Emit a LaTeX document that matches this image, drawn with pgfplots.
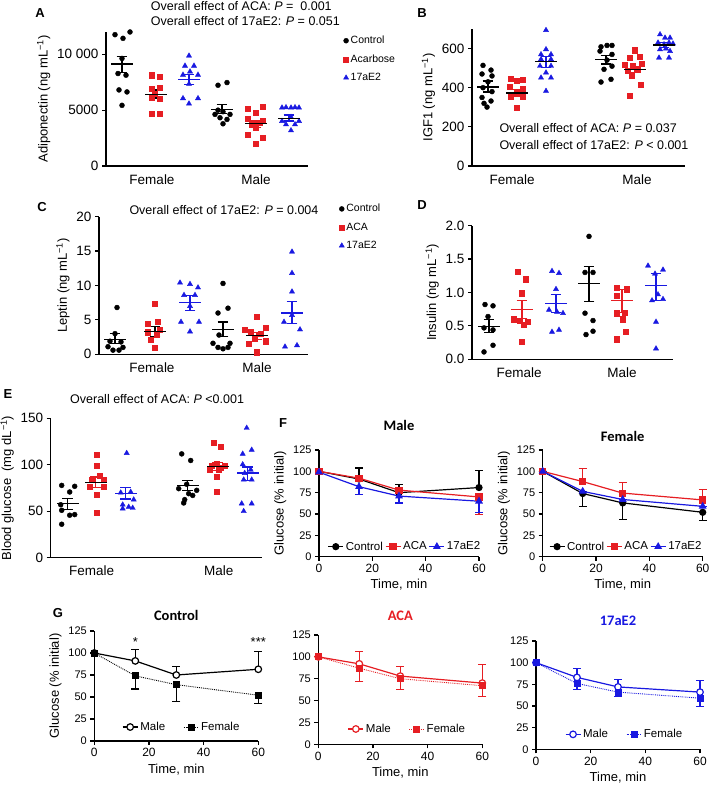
\documentclass[border=0pt]{standalone}
\usepackage{fontspec}
\setmainfont{Liberation Sans}
\newfontfamily\carlito{Carlito}
\usepackage{pgfplots}
\pgfplotsset{compat=1.18}
\definecolor{myred}{RGB}{230,30,35}
\definecolor{myblue}{RGB}{25,25,225}
\newcommand\fsz[1]{\fontsize{#1bp}{1.2\dimexpr#1bp\relax}\selectfont}
\pgfplotsset{
  base/.style={scale only axis, axis x line*=bottom, axis y line*=left, clip=false,
    axis line style={line width=1.2bp, black},
    tick style={line width=1.2bp, black},
    tick align=outside, major tick length=4bp,
    scaled y ticks=false, scaled x ticks=false,
    /pgf/number format/assume math mode=true,
    ymin=0, ylabel style={font=\fsz{13}},
  },
  scat/.style={base,
    ticklabel style={font=\fsz{13.5}},
    major x tick style={draw=none},
    xticklabel style={yshift=-1bp},
    legend style={draw=none, fill=none, font=\fsz{10.5}, legend cell align=left, row sep=5.5bp},
  },
  ctrl/.style={only marks, mark=*, mark size=2.5, black,
    legend image code/.code={\draw[##1] plot coordinates {(0bp,0bp)};}},
  aca/.style={only marks, mark=square*, mark size=2.6, myred,
    legend image code/.code={\draw[##1] plot coordinates {(0bp,0bp)};}},
  etwo/.style={only marks, mark=triangle*, mark size=3.0, myblue,
    legend image code/.code={\draw[##1] plot coordinates {(0bp,0bp)};}},
  tline/.style={base, xmin=0, xmax=60, ymax=125, xtick={0,20,40,60}, ytick={0,25,50,75,100,125},
    yticklabel style={font=\fsz{11}}, xticklabel style={font=\fsz{12}},
    xlabel={Time, min}, xlabel style={font=\fsz{13}},
    title style={font=\carlito\bfseries\fsz{14.5}, at={(0.5,1)}, anchor=center},
    legend style={draw=none, fill=none, font=\fsz{11.5}},
    legend image code/.code={\draw[mark repeat=2,mark phase=2,#1] plot coordinates {(0bp,0bp)(7.5bp,0bp)(15bp,0bp)};},
  },
  ebar/.style={error bars/.cd, y dir=#1, y explicit, error bar style={line width=1.2bp, solid}, error mark options={rotate=90, line width=1.2bp, mark size=4, solid}},
}
\newcommand\mbar[6]{%
\addplot[forget plot, only marks, mark=-, mark size=11, line width=1.3bp, color=#2,
  error bars/.cd, y dir=both, y explicit, error bar style={color=#1, line width=1.2bp},
  error mark options={rotate=90, color=#1, mark size=5.5, line width=1.2bp}]
  coordinates {(#3,#4) += (0,#5) -= (0,#6)};}
\begin{document}
\begin{tikzpicture}[x=1bp,y=1bp]

% ---------------- A ----------------
\begin{axis}[scat, at={(106bp,619bp)}, anchor=south west, width=202bp, height=134bp,
  xmin=0, xmax=202, ymax=12000, ytick={0,5000,10000}, yticklabels={0,5000,{10 000}},
  xtick={46,150}, xticklabels={Female,Male},
  ylabel={Adiponectin (ng mL\textsuperscript{−1})},
  legend style={at={(1.16,1.0)}, anchor=north west}]
\addplot[ctrl] coordinates {(9,11760) (17,11430) (24,12000) (16,9630) (12,8280) (20,8130) (13,6810) (21,6630) (16,5430)
 (112,7230) (121,7470) (112,5000) (117,4860) (109,4620) (124,4620) (114,4320) (121,4170) (117,3780)};
\addplot[aca] coordinates {(46,8130) (54,8010) (46,6930) (54,7020) (49,6500) (54,6060) (46,6150) (46,4680) (54,4680)
 (142,5130) (157,5280) (150,4770) (142,4260) (157,4020) (146,3720) (150,3420) (142,2820) (157,2520) (150,2010) (154,3900)};
\addplot[etwo] coordinates {(83,9870) (79,8970) (88,8970) (77,8160) (92,8160) (84,8450) (83,7350) (77,6060) (92,6060) (83,5580)
 (176,5220) (180,5250) (185,5220) (189,5250) (193,5220) (185,4380) (176,4020) (193,4020) (180,3720) (189,3720) (185,3180)};
\legend{Control,Acarbose,17aE2}
\mbar{black}{black}{16}{9120}{720}{750}
\mbar{black}{black}{50}{6420}{390}{360}
\mbar{myblue}{myblue}{83}{7770}{450}{450}
\mbar{black}{black}{116}{5070}{420}{390}
\mbar{myred}{black}{150}{3780}{240}{360}
\mbar{myblue}{black}{183}{4260}{300}{240}
\end{axis}

% ---------------- B ----------------
\begin{axis}[scat, at={(472bp,619bp)}, anchor=south west, width=213bp, height=137bp,
  xmin=0, xmax=213, ymax=700, ytick={0,200,400,600},
  xtick={40,165}, xticklabels={Female,Male},
  ylabel={IGF1 (ng mL\textsuperscript{−1})}]
\addplot[ctrl] coordinates {(11,514) (19,490) (10,470) (20,460) (16,430) (11,400) (20,380) (10,350) (19,332) (12,320) (15,301)
 (129,609) (135,616) (140,616) (128,587) (140,570) (135,541) (140,510) (132,494) (129,429) (139,443)};
\addplot[aca] coordinates {(39,446) (45,434) (51,439) (38,405) (51,392) (45,374) (39,354) (51,357) (45,298)
 (163,592) (158,553) (168,558) (153,519) (161,514) (170,524) (156,485) (166,494) (160,463) (169,417) (158,361)};
\addplot[etwo] coordinates {(74,694) (74,596) (69,570) (79,570) (69,545) (79,545) (68,511) (79,511) (74,477) (69,451) (79,451) (74,383)
 (188,672) (193,655) (198,655) (186,630) (192,621) (197,630) (201,625) (188,596) (194,600) (198,587) (187,553) (197,553)};
\mbar{black}{black}{16}{403}{31}{25}
\mbar{myred}{black}{45}{373}{18}{19}
\mbar{myblue}{black}{74}{533}{25}{31}
\mbar{black}{black}{134}{545}{20}{24}
\mbar{myred}{black}{163}{492}{15}{15}
\mbar{myblue}{black}{192}{618}{12}{14}
\end{axis}

% ---------------- C ----------------
\begin{axis}[scat, at={(99bp,430.7bp)}, anchor=south west, width=209bp, height=137.6bp,
  xmin=0, xmax=209, ymax=20, ytick={0,5,10,15,20},
  xtick={53,158}, xticklabels={Female,Male},
  ylabel={Leptin (ng mL\textsuperscript{−1})},
  legend style={at={(1.134,1.12)}, anchor=north west}]
\addplot[ctrl] coordinates {(18,6.8) (16,3.0) (11,1.9) (22,1.8) (9,1.1) (24,1.0) (14,0.6) (20,0.6)
 (124,10.3) (119,6.0) (129,6.7) (120,2.8) (114,1.6) (131,1.6) (119,1.0) (124,0.8) (129,1.0)};
\addplot[aca] coordinates {(56,7.4) (59,4.7) (49,4.4) (61,3.6) (49,3.2) (58,2.8) (52,2.1) (56,1.0)
 (158,5.5) (167,3.9) (146,3.6) (152,3.3) (162,3.0) (156,2.3) (167,1.9) (150,1.5) (158,0.3)};
\addplot[etwo] coordinates {(81,10.4) (91,10.2) (99,9.7) (85,8.6) (96,8.6) (91,7.0) (82,4.7) (100,4.7) (91,3.3)
 (193,14.9) (193,11.8) (193,9.1) (193,5.7) (185,4.7) (201,3.6) (186,1.1) (198,1.3)};
\legend{Control,ACA,17aE2}
\mbar{black}{black}{16}{2.2}{0.85}{0.6}
\mbar{black}{black}{56}{3.3}{0.7}{0.75}
\mbar{myblue}{myblue}{91}{7.5}{1.1}{1.1}
\mbar{black}{black}{124}{3.6}{1.1}{1.05}
\mbar{myred}{black}{158}{2.7}{0.5}{0.5}
\mbar{myblue}{myblue}{193}{6.0}{1.65}{1.5}
\end{axis}

% ---------------- D ----------------
\begin{axis}[scat, at={(472bp,425.7bp)}, anchor=south west, width=201bp, height=133.6bp,
  xmin=0, xmax=201, ymax=2, ytick={0,0.5,1,1.5,2}, yticklabels={0.0,0.5,1.0,1.5,2.0},
  xtick={47,150}, xticklabels={Female,Male},
  ylabel={Insulin (ng mL\textsuperscript{−1})}]
\addplot[ctrl] coordinates {(13,0.82) (21,0.80) (16,0.64) (12,0.47) (21,0.44) (21,0.21) (12,0.11)
 (117,1.84) (113,1.3) (121,1.3) (113,0.69) (121,0.58) (114,0.37) (121,0.42)};
\addplot[aca] coordinates {(46,1.31) (54,1.2) (50,0.99) (42,0.6) (48,0.58) (56,0.56) (52,0.52) (50,0.26)
 (145,1.07) (155,1.05) (145,0.95) (153,0.7) (145,0.69) (151,0.6) (154,0.41) (145,0.3)};
\addplot[etwo] coordinates {(80,1.32) (87,1.29) (84,1.05) (77,0.74) (85,0.71) (91,0.69) (80,0.41) (87,0.44)
 (176,1.40) (191,1.34) (183,1.28) (186,0.97) (180,0.88) (191,0.9) (184,0.56) (184,0.16)};
\mbar{black}{black}{17}{0.495}{0.105}{0.095}
\mbar{myred}{myred}{50}{0.75}{0.125}{0.135}
\mbar{myblue}{myblue}{84}{0.84}{0.125}{0.14}
\mbar{black}{black}{117}{1.13}{0.265}{0.265}
\mbar{myred}{myred}{150}{0.88}{0.17}{0.175}
\mbar{myblue}{myblue}{184}{1.10}{0.18}{0.22}
\end{axis}

% ---------------- E ----------------
\begin{axis}[scat, at={(50.7bp,227.3bp)}, anchor=south west, width=211bp, height=139.4bp,
  xmin=0, xmax=211, ymax=150, ytick={0,50,100,150},
  xtick={41,168}, xticklabels={Female,Male},
  ylabel={Blood glucose\ \ (mg dL\textsuperscript{−1})}]
\addplot[ctrl] coordinates {(11,77.8) (24,76.8) (19,70.7) (10,57) (11,51) (19,45.7) (24,46.4) (11,36)
 (131,111.7) (140,104.6) (128,74.3) (146,72.5) (136,79) (138,68.9) (142,67) (134,62.5) (133,58.9)};
\addplot[aca] coordinates {(46,110.5) (46,99.3) (49,88.5) (41,84) (53,84) (53,76.8) (39,76) (46,68.2) (46,48.6)
 (163,123.5) (170,119.6) (161,99.3) (166,101) (174,99.3) (159,94.6) (168,94.6) (166,87.5) (166,70.7) (170,97)};
\addplot[etwo] coordinates {(76,112.5) (70,70) (80,70.7) (83,62.5) (72,57) (78,54.6) (72,52.8) (82,53.5)
 (196,139.6) (192,111.7) (201,116) (192,100.3) (200,94.6) (194,91) (193,83.9) (201,83.9) (191,58.2) (201,58.2) (193,50)};
\mbar{black}{black}{17}{58.2}{5.3}{6.4}
\mbar{myred}{black}{45}{81}{5.8}{5.7}
\mbar{myblue}{myblue}{75}{68.9}{6.4}{5.7}
\mbar{black}{black}{137}{77.8}{5.4}{5.3}
\mbar{myred}{black}{167}{98.5}{4.3}{4.6}
\mbar{myblue}{myblue}{197}{91}{6.5}{7.8}
\end{axis}

% ---------------- F male ----------------
\begin{axis}[tline, at={(319bp,228.3bp)}, anchor=south west, width=160bp, height=106.7bp,
  ylabel={Glucose (\% initial)}, title={Male}, title style={yshift=19bp},
  legend columns=3, legend style={at={(1.04,0.094)}, anchor=east}]
\addplot[black, line width=1.2bp, mark=*, mark size=3, ebar=plus]
 coordinates {(0,100) +- (0,0) (15,91) +- (0,13) (30,75) +- (0,10) (60,81) +- (0,20)};
\addplot[myred, line width=1.2bp, mark=square*, mark size=3, ebar=minus]
 coordinates {(0,100) +- (0,0) (15,92) +- (0,0) (30,78) +- (0,4) (60,70) +- (0,21)};
\addplot[myblue, line width=1.2bp, mark=triangle*, mark size=3.4, ebar=minus]
 coordinates {(0,99) +- (0,0) (15,82) +- (0,9) (30,71) +- (0,8) (60,65) +- (0,13)};
\legend{Control,ACA,17aE2}
\end{axis}

% ---------------- F female ----------------
\begin{axis}[tline, at={(542.7bp,228.3bp)}, anchor=south west, width=160bp, height=106.7bp,
  ylabel={Glucose (\% initial)}, title={Female}, title style={yshift=7.5bp},
  legend columns=3, legend style={at={(1.025,0.094)}, anchor=east}]
\addplot[black, line width=1.2bp, mark=*, mark size=3, ebar=minus]
 coordinates {(0,100) +- (0,0) (15,74) +- (0,15) (30,63) +- (0,19) (60,52) +- (0,10)};
\addplot[myred, line width=1.2bp, mark=square*, mark size=3, ebar=plus]
 coordinates {(0,100) +- (0,0) (15,88) +- (0,15.5) (30,74.5) +- (0,12) (60,66.5) +- (0,12.5)};
\addplot[myblue, line width=1.2bp, mark=triangle*, mark size=3.4, ebar=minus]
 coordinates {(0,100) +- (0,0) (15,76.5) +- (0,0) (30,67) +- (0,0) (60,59) +- (0,0)};
\legend{Control,ACA,17aE2}
\end{axis}

% ---------------- G control ----------------
\begin{axis}[tline, at={(94.3bp,44bp)}, anchor=south west, width=164bp, height=110bp,
  ylabel={Glucose (\% initial)}, title={Control}, title style={yshift=10bp},
  legend columns=2, legend style={at={(0.15,0.127)}, anchor=west, /tikz/every even column/.append style={column sep=16bp}}]
\addplot[black, line width=1.2bp, mark=*, mark size=3.3, mark options={fill=white}, ebar=plus]
 coordinates {(0,100) +- (0,0) (15,91) +- (0,13) (30,75) +- (0,10) (60,81.5) +- (0,20)};
\addplot[black, line width=0.9bp, densely dotted, mark=square*, mark size=3, mark options={solid}, ebar=minus]
 coordinates {(0,100) +- (0,0) (15,74) +- (0,15) (30,64) +- (0,19) (60,52) +- (0,9)};
\legend{Male,Female}
\node[font=\fsz{13}] at (axis cs:15,113) {*};
\node[font=\fsz{13}] at (axis cs:60,113) {***};
\end{axis}

% ---------------- G ACA ----------------
\begin{axis}[tline, at={(318.3bp,40.7bp)}, anchor=south west, width=164bp, height=109.3bp,
  title={\color{myred}ACA}, title style={yshift=13bp},
  legend columns=2, legend style={at={(0.16,0.14)}, anchor=west, /tikz/every even column/.append style={column sep=16bp}}]
\addplot[myred, line width=1.2bp, mark=*, mark size=3.3, mark options={fill=white}, ebar=plus]
 coordinates {(0,100) +- (0,0) (15,92) +- (0,14) (30,78) +- (0,11) (60,70) +- (0,21)};
\addplot[myred, line width=0.9bp, densely dotted, mark=square*, mark size=3, mark options={solid}, ebar=minus]
 coordinates {(0,100) +- (0,0) (15,87) +- (0,15) (30,75) +- (0,12) (60,67) +- (0,12)};
\legend{Male,Female}
\end{axis}

% ---------------- G 17aE2 ----------------
\begin{axis}[tline, at={(536bp,35.7bp)}, anchor=south west, width=164bp, height=108.3bp,
  title={\color{myblue}17aE2}, title style={yshift=14bp},
  legend columns=2, legend style={at={(0.157,0.138)}, anchor=west, /tikz/every even column/.append style={column sep=16bp}}]
\addplot[myblue, line width=1.2bp, mark=*, mark size=3.3, mark options={fill=white}, ebar=plus]
 coordinates {(0,100) +- (0,0) (15,83) +- (0,10) (30,72) +- (0,9) (60,66) +- (0,13)};
\addplot[myblue, line width=0.9bp, densely dotted, mark=square*, mark size=3, mark options={solid}, ebar=minus]
 coordinates {(0,100) +- (0,0) (15,76) +- (0,7) (30,66) +- (0,5) (60,59) +- (0,10)};
\legend{Male,Female}
\end{axis}

% ---------------- annotations ----------------
\begin{scope}[every node/.style={font=\fsz{12.5}, anchor=west, inner sep=0pt}]
\node at (150.7,779) {Overall effect of ACA: \textit{P} =\ \ 0.001};
\node at (150.7,764.3) {Overall effect of 17aE2: \textit{P} = 0.051};
\node at (499.3,656.7) {Overall effect of ACA: \textit{P} = 0.037};
\node at (499.3,640) {Overall effect of 17aE2: \textit{P} {\textless} 0.001};
\node at (129.3,575) {Overall effect of 17aE2: \textit{P} = 0.004};
\node at (70,385.7) {Overall effect of ACA: \textit{P} {\textless}0.001};
\end{scope}
\begin{scope}[every node/.style={font=\bfseries\fsz{13}, inner sep=0pt}]
\node at (40,772) {A};
\node at (422,772) {B};
\node at (42,578.3) {C};
\node at (422,580) {D};
\node at (8,391) {E};
\node at (283,361.7) {F};
\node at (58,171.7) {G};
\end{scope}
\pgfresetboundingbox
\path[use as bounding box] (0,0) rectangle (709,785);
\end{tikzpicture}
\end{document}
